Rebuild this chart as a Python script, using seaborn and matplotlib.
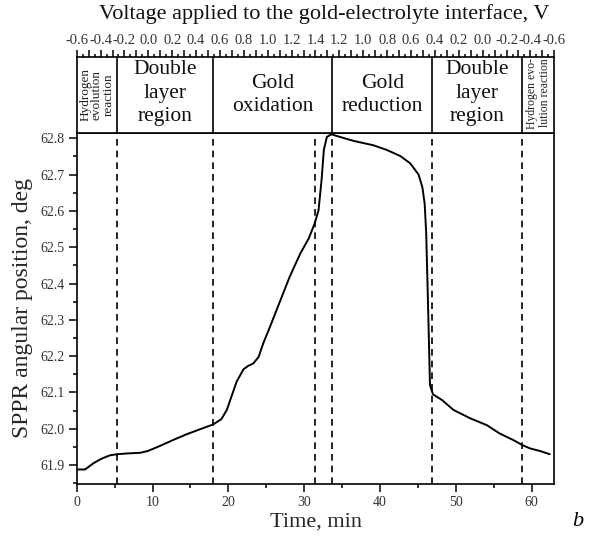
import numpy as np
import pandas as pd
import matplotlib
matplotlib.use("Agg")
import matplotlib.pyplot as plt
import seaborn as sns
from matplotlib.ticker import MultipleLocator, FixedLocator, FormatStrFormatter

# ---- data ----
time_min = [0.0, 1.1, 2.2, 3.3, 4.4, 5.3, 6.6, 8.4, 9.4, 11.0, 12.7, 14.5, 16.3,
            18.0, 19.1, 19.8, 20.4, 21.1, 22.0, 22.6, 23.3, 24.0, 24.6, 25.5,
            26.8, 28.1, 29.5, 30.6, 31.4, 31.9, 32.3, 32.6, 33.0, 33.6, 34.7,
            36.5, 39.1, 40.9, 42.7, 44.0, 45.1, 45.6, 45.9, 46.1, 46.3, 46.5,
            46.6, 47.0, 48.2, 49.7, 51.9, 54.1, 55.8, 57.6, 58.8, 59.8, 61.1,
            62.4]
angle_deg = [61.888, 61.888, 61.905, 61.918, 61.927, 61.930, 61.932, 61.934,
             61.939, 61.953, 61.969, 61.985, 61.999, 62.012, 62.027, 62.052,
             62.088, 62.130, 62.164, 62.173, 62.180, 62.198, 62.235, 62.281,
             62.350, 62.419, 62.483, 62.524, 62.566, 62.602, 62.685, 62.768,
             62.804, 62.811, 62.804, 62.793, 62.781, 62.768, 62.751, 62.731,
             62.700, 62.665, 62.620, 62.540, 62.380, 62.208, 62.120, 62.095,
             62.079, 62.052, 62.029, 62.010, 61.987, 61.969, 61.955, 61.946,
             61.939, 61.930]

dashed_times = [5.3, 18.0, 31.5, 33.7, 46.9, 58.8]
region_bounds = [5.3, 18.0, 33.7, 46.9, 58.8]
voltage_labels = ["-0.6", "-0.4", "-0.2", "0.0", "0.2", "0.4", "0.6", "0.8",
                  "1.0", "1.2", "1.4", "1.2", "1.0", "0.8", "0.6", "0.4",
                  "0.2", "0.0", "-0.2", "-0.4", "-0.6"]
region_names = ["Double\nlayer\nregion", "Gold\noxidation", "Gold\nreduction",
                "Double\nlayer\nregion"]
region_small_left = "Hydrogen\nevolution\nreaction"
region_small_right = "Hydrogen evo-\nlution reaction"

XMAX = 63.0
YMIN, YMAX = 61.848, 62.816

sns.set_theme(style="ticks")
plt.rcParams['font.family'] = ['Liberation Serif', 'DejaVu Serif']
plt.rcParams['axes.edgecolor'] = 'black'
plt.rcParams['xtick.color'] = 'black'
plt.rcParams['ytick.color'] = 'black'

W, H = 590, 538
fig = plt.figure(figsize=(W / 100, H / 100), dpi=100)
L, R = 76.7 / W, 554.3 / W
mb, mt = 1 - 484 / H, 1 - 132.5 / H
tt = 1 - 56.7 / H
ax = fig.add_axes([L, mb, R - L, mt - mb])
axt = fig.add_axes([L, mt, R - L, tt - mt])

df = pd.DataFrame({"Time": time_min, "Angle": angle_deg})
sns.lineplot(data=df, x="Time", y="Angle", ax=ax, color="black", lw=1.4,
             estimator=None, sort=False)

for t in dashed_times:
    ax.axvline(t, color="black", lw=1.2, ls=(0, (4, 3)))

ax.set_xlim(0, XMAX)
ax.set_ylim(YMIN, YMAX)
ax.xaxis.set_major_locator(MultipleLocator(10))
ax.xaxis.set_minor_locator(MultipleLocator(5))
ax.yaxis.set_major_locator(MultipleLocator(0.1))
ax.yaxis.set_minor_locator(MultipleLocator(0.05))
ax.yaxis.set_major_formatter(FormatStrFormatter('%.1f'))
ax.tick_params(which='major', direction='out', length=6, width=1.1,
               labelsize=10, labelcolor='#333333', pad=3)
ax.tick_params(which='minor', direction='out', length=3, width=1.1)
ax.tick_params(top=False, right=False)
for s in ax.spines.values():
    s.set_visible(True)
    s.set_linewidth(1.2)
    s.set_color('black')
ax.set_xlabel("Time, min", fontsize=16, labelpad=2)
ax.set_ylabel("SPPR angular position, deg", fontsize=17, labelpad=5)

# top box with regions and voltage axis
axt.set_xlim(0, XMAX)
axt.set_ylim(0, 1)
axt.set_yticks([])
half = np.linspace(0, XMAX, 2 * len(voltage_labels) - 1)
quarter = np.linspace(0, XMAX, 4 * len(voltage_labels) - 3)
axt.xaxis.set_major_locator(FixedLocator(half))
lab = []
for i in range(len(half)):
    lab.append(voltage_labels[i // 2] if i % 2 == 0 else "")
axt.set_xticklabels(lab)
axt.xaxis.set_minor_locator(FixedLocator(quarter))
axt.tick_params(axis='x', which='both', top=True, labeltop=True, bottom=False,
                labelbottom=False, direction='out')
axt.tick_params(axis='x', which='major', length=5, width=1.1, labelsize=10.5,
                labelcolor='#333333', pad=2)
axt.tick_params(axis='x', which='minor', length=2.5, width=1.1)
for s in axt.spines.values():
    s.set_visible(True)
    s.set_linewidth(1.2)
    s.set_color('black')
for t in region_bounds:
    axt.axvline(t, color="black", lw=1.2)

edges = [5.3, 18.0, 33.7, 46.9, 58.8]
for i, name in enumerate(region_names):
    xc = (edges[i] + edges[i + 1]) / 2
    yc = 0.52 if name.count("\n") == 2 else 0.49
    axt.text(xc, yc, name, ha='center', va='center', fontsize=15.5,
             linespacing=1.3, color='#111111')
axt.text(2.65, 0.5, region_small_left, ha='center', va='center', rotation=90,
         fontsize=9.5, linespacing=0.95, color='#222222')
axt.text((58.8 + XMAX) / 2, 0.52, region_small_right, ha='center', va='center',
         rotation=90, fontsize=8.5, linespacing=1.05, color='#222222')

fig.text(324 / W, 1 - 14 / H,
         "Voltage applied to the gold-electrolyte interface, V",
         ha='center', va='center', fontsize=16, color='#111111')
fig.text(578 / W, 1 - 522 / H, "b", ha='center', va='center', fontsize=16,
         style='italic', color='black')

fig.savefig("out.png", dpi=100)
